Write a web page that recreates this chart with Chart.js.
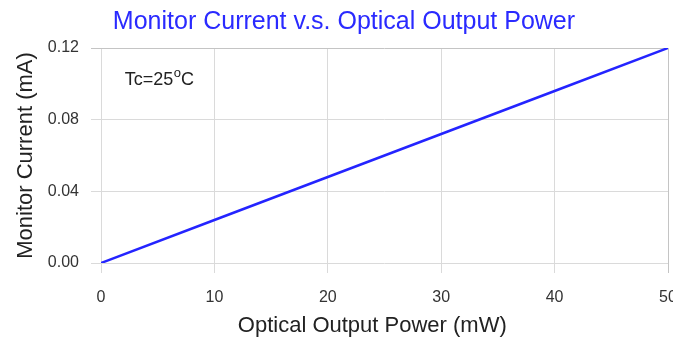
<!DOCTYPE html>
<html>
<head>
<meta charset="utf-8">
<script src="https://cdn.jsdelivr.net/npm/chart.js@4/dist/chart.umd.min.js"></script>
<style>
html,body{margin:0;padding:0;background:#fff;overflow:hidden;}
#wrap{width:682px;height:339px;}
</style>
</head>
<body>
<div id="wrap"><canvas id="c" width="682" height="339"></canvas></div>
<script>
const chartTitle = "\u00a0Monitor Current v.s. Optical Output Power";
const xTitle = "Optical Output Power (mW)\u00a0\u00a0\u00a0\u00a0";
const yTitle = "Monitor Current (mA)";
const powerMW = [0, 10, 20, 30, 40, 50];
const currentMA = [0, 0.024, 0.048, 0.072, 0.096, 0.12];
const xTicks = [0, 10, 20, 30, 40, 50];
const yTicks = [0, 0.04, 0.08, 0.12];
const noteText = ["Tc=25", "o", "C"];
const notePos = [2.1, 0.1022];

const FONT = "'Liberation Sans', Arial, sans-serif";

const notePlugin = {
  id: 'note',
  afterDatasetsDraw(chart) {
    const ctx = chart.ctx;
    const x = chart.scales.x.getPixelForValue(notePos[0]);
    const y = chart.scales.y.getPixelForValue(notePos[1]);
    ctx.save();
    ctx.fillStyle = '#222';
    ctx.textBaseline = 'middle';
    ctx.textAlign = 'left';
    ctx.font = "18px " + FONT;
    ctx.fillText(noteText[0], x, y);
    let w = ctx.measureText(noteText[0]).width;
    ctx.font = "13px " + FONT;
    ctx.fillText(noteText[1], x + w + 0.5, y - 6);
    let w2 = ctx.measureText(noteText[1]).width;
    ctx.font = "18px " + FONT;
    ctx.fillText(noteText[2], x + w + w2 + 0.5, y);
    ctx.restore();
  }
};

const gridColor = (ctx) => (ctx.tick && (ctx.tick.value === 0.12 || ctx.tick.value === 50)) ? '#c4c4c4' : '#dadada';

new Chart(document.getElementById('c'), {
  type: 'line',
  data: {
    datasets: [{
      data: powerMW.map((p, i) => ({x: p, y: currentMA[i]})),
      borderColor: '#2424ff',
      borderWidth: 2.5,
      pointRadius: 0,
      fill: false,
      tension: 0
    }]
  },
  options: {
    responsive: false,
    animation: false,
    layout: {padding: {left: 13, right: 14, top: 0, bottom: 0}},
    plugins: {
      legend: {display: false},
      tooltip: {enabled: false},
      title: {
        display: true,
        text: chartTitle,
        color: '#2a2aff',
        font: {family: FONT, size: 25, weight: 'normal'},
        padding: {top: 7, bottom: 11}
      }
    },
    scales: {
      x: {
        type: 'linear',
        min: 0, max: 50,
        afterBuildTicks(s) { s.ticks = xTicks.map(v => ({value: v})); },
        afterFit(s) { s.height = 76; s.paddingRight = 0; s.paddingLeft = 0; },
        grid: {color: gridColor, lineWidth: 1, tickLength: 10, drawTicks: true},
        border: {display: false},
        ticks: {color: '#333', font: {family: FONT, size: 16}, padding: 15, maxRotation: 0},
        title: {display: true, text: xTitle, color: '#222', font: {family: FONT, size: 22}, padding: {top: 0, bottom: 0}}
      },
      y: {
        type: 'linear',
        min: 0, max: 0.12,
        afterBuildTicks(s) { s.ticks = yTicks.map(v => ({value: v})); },
        afterFit(s) { s.width = 88; },
        grid: {color: gridColor, lineWidth: 1, tickLength: 10},
        border: {display: false},
        ticks: {color: '#333', font: {family: FONT, size: 16}, padding: 12,
          callback: v => Number(v).toFixed(2)},
        title: {display: true, text: yTitle, color: '#222', font: {family: FONT, size: 22}, padding: {top: 0, bottom: 0}}
      }
    }
  },
  plugins: [notePlugin]
});
</script>
</body>
</html>
